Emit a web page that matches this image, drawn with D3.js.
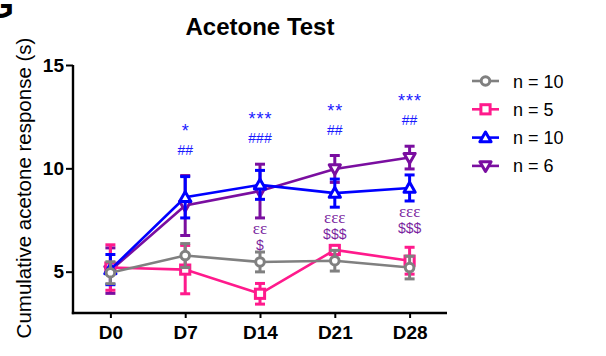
<!DOCTYPE html>
<html>
<head>
<meta charset="utf-8">
<script src="https://cdn.jsdelivr.net/npm/d3@7"></script>
<style>
  html, body { margin: 0; padding: 0; background: #fff; }
  svg { display: block; }
</style>
</head>
<body>
<svg id="chart" width="606" height="356"></svg>
<script>
// ---- data ----
const days = ["D0", "D7", "D14", "D21", "D28"];
const yTicks = [5, 10, 15];
const seriesNames = ["n = 10", "n = 5", "n = 10", "n = 6"];
const grayMean   = [4.95, 5.78, 5.47, 5.53, 5.20];
const grayErr    = [0.53, 0.58, 0.48, 0.50, 0.55];
const pinkMean   = [5.20, 5.10, 3.93, 6.05, 5.53];
const pinkErr    = [1.10, 1.17, 0.50, 0.22, 0.65];
const blueMean   = [5.10, 8.60, 9.20, 8.80, 9.05];
const blueErr    = [0.73, 1.00, 0.70, 0.68, 0.63];
const purpleMean = [5.05, 8.20, 8.90, 9.97, 10.52];
const purpleErr  = [1.10, 1.45, 1.30, 0.65, 0.55];
const blueStars  = ["", "*", "***", "**", "***"];
const blueHash   = ["", "##", "###", "##", "##"];
const purpleEps  = ["", "", "εε", "εεε", "εεε"];
const purpleDol  = ["", "", "$", "$$$", "$$$"];

const SANS = "Liberation Sans, Arial, sans-serif";
const svg = d3.select("#chart");
const x = d3.scalePoint().domain(days).range([73, 447]).padding(0.5);
const y = d3.scaleLinear().domain([3, 15]).range([313, 65]);

const series = [
  { name: seriesNames[3], mean: purpleMean, err: purpleErr, color: "#7a0ea0", marker: "down" },
  { name: seriesNames[1], mean: pinkMean,   err: pinkErr,   color: "#ff1a8c", marker: "square" },
  { name: seriesNames[2], mean: blueMean,   err: blueErr,   color: "#0000ff", marker: "up" },
  { name: seriesNames[0], mean: grayMean,   err: grayErr,   color: "#808080", marker: "circle" }
];

function drawMarker(g, type, cx, cy, color) {
  if (type === "circle") {
    g.append("circle").attr("cx", cx).attr("cy", cy).attr("r", 4.3)
      .attr("fill", "#fff").attr("stroke", color).attr("stroke-width", 3);
  } else if (type === "square") {
    g.append("rect").attr("x", cx - 4.6).attr("y", cy - 4.6).attr("width", 9.2).attr("height", 9.2)
      .attr("fill", "#fff").attr("stroke", color).attr("stroke-width", 3);
  } else if (type === "up") {
    const s = 5.6;
    g.append("path").attr("d", `M${cx},${cy - s} L${cx + s},${cy + s * 0.75} L${cx - s},${cy + s * 0.75} Z`)
      .attr("fill", "#fff").attr("stroke", color).attr("stroke-width", 3).attr("stroke-linejoin", "round");
  } else if (type === "down") {
    const s = 5.6;
    g.append("path").attr("d", `M${cx},${cy + s} L${cx + s},${cy - s * 0.75} L${cx - s},${cy - s * 0.75} Z`)
      .attr("fill", "#fff").attr("stroke", color).attr("stroke-width", 3).attr("stroke-linejoin", "round");
  }
}

// ---- series ----
series.forEach(s => {
  const g = svg.append("g");
  const pts = days.map((d, i) => ({ d, m: s.mean[i], e: s.err[i] }));
  g.append("path").datum(pts)
    .attr("fill", "none").attr("stroke", s.color).attr("stroke-width", 2.6)
    .attr("d", d3.line().x(p => x(p.d)).y(p => y(p.m)));
  pts.forEach(p => {
    const cx = x(p.d);
    g.append("line").attr("x1", cx).attr("x2", cx).attr("y1", y(p.m - p.e)).attr("y2", y(p.m + p.e))
      .attr("stroke", s.color).attr("stroke-width", 3);
    [p.m - p.e, p.m + p.e].forEach(v => {
      g.append("line").attr("x1", cx - 5).attr("x2", cx + 5).attr("y1", y(v)).attr("y2", y(v))
        .attr("stroke", s.color).attr("stroke-width", 3);
    });
  });
  pts.forEach(p => drawMarker(g, s.marker, x(p.d), y(p.m), s.color));
});

// ---- axes ----
const yAxis = svg.append("g").attr("transform", "translate(73,0)")
  .call(d3.axisLeft(y).tickValues(yTicks).tickSize(7).tickSizeOuter(0).tickPadding(2));
const xAxis = svg.append("g").attr("transform", "translate(0,313)")
  .call(d3.axisBottom(x).tickSize(5).tickSizeOuter(0).tickPadding(8));
[yAxis, xAxis].forEach(a => {
  a.select(".domain").attr("stroke", "#000").attr("stroke-width", 2.4);
  a.selectAll(".tick line").attr("stroke", "#000").attr("stroke-width", 2);
  a.selectAll(".tick text").attr("fill", "#000")
    .style("font-family", SANS).style("font-size", "19px").style("font-weight", "bold");
});
xAxis.select(".domain").attr("d", "M71.8,0H447");
yAxis.select(".domain").attr("d", "M0,314.2V65");

// ---- annotations ----
days.forEach((d, i) => {
  const cx = x(d);
  const topP = y(Math.max(blueMean[i] + blueErr[i], purpleMean[i] + purpleErr[i]));
  if (blueHash[i]) {
    svg.append("text").attr("x", cx).attr("y", topP - 21).attr("text-anchor", "middle")
      .attr("fill", "#1a1aff").style("font-family", SANS)
      .style("font-size", "14px").text(blueHash[i]);
    svg.append("text").attr("x", cx + 0.5).attr("y", topP - 39).attr("text-anchor", "middle")
      .attr("fill", "#1a1aff").style("font-family", SANS)
      .style("font-size", "18px").style("letter-spacing", "1px").text(blueStars[i]);
  }
  if (purpleEps[i]) {
    const bot = y(Math.min(blueMean[i] - blueErr[i], purpleMean[i] - purpleErr[i]));
    svg.append("text").attr("x", cx).attr("y", bot + 16).attr("text-anchor", "middle")
      .attr("fill", "#7a1fa0").style("font-family", "Liberation Serif, Times New Roman, serif")
      .style("font-size", "17px").text(purpleEps[i]);
    svg.append("text").attr("x", cx).attr("y", bot + 32).attr("text-anchor", "middle")
      .attr("fill", "#7a1fa0").style("font-family", SANS)
      .style("font-size", "14px").text(purpleDol[i]);
  }
});

// ---- title & labels ----
svg.append("text").attr("x", 260).attr("y", 35).attr("text-anchor", "middle")
  .style("font-family", SANS).style("font-size", "24px")
  .style("font-weight", "bold").text("Acetone Test");
svg.append("text").attr("transform", "translate(31,188) rotate(-90)").attr("text-anchor", "middle")
  .style("font-family", SANS).style("font-size", "20.5px")
  .text("Cumulative acetone response (s)");
svg.append("text").attr("x", 14).attr("y", 18).attr("text-anchor", "end")
  .style("font-family", SANS).style("font-size", "36px")
  .style("font-weight", "bold").text("G");

// ---- legend ----
const legendOrder = [series[3], series[1], series[2], series[0]];
legendOrder.forEach((s, i) => {
  const ly = 81 + i * 28.3;
  const g = svg.append("g");
  g.append("line").attr("x1", 472).attr("x2", 499).attr("y1", ly).attr("y2", ly)
    .attr("stroke", s.color).attr("stroke-width", 2.6);
  drawMarker(g, s.marker, 485.5, ly, s.color);
  g.append("text").attr("x", 513).attr("y", ly + 6.5)
    .style("font-family", SANS).style("font-size", "18px")
    .text(s.name);
});
</script>
</body>
</html>
